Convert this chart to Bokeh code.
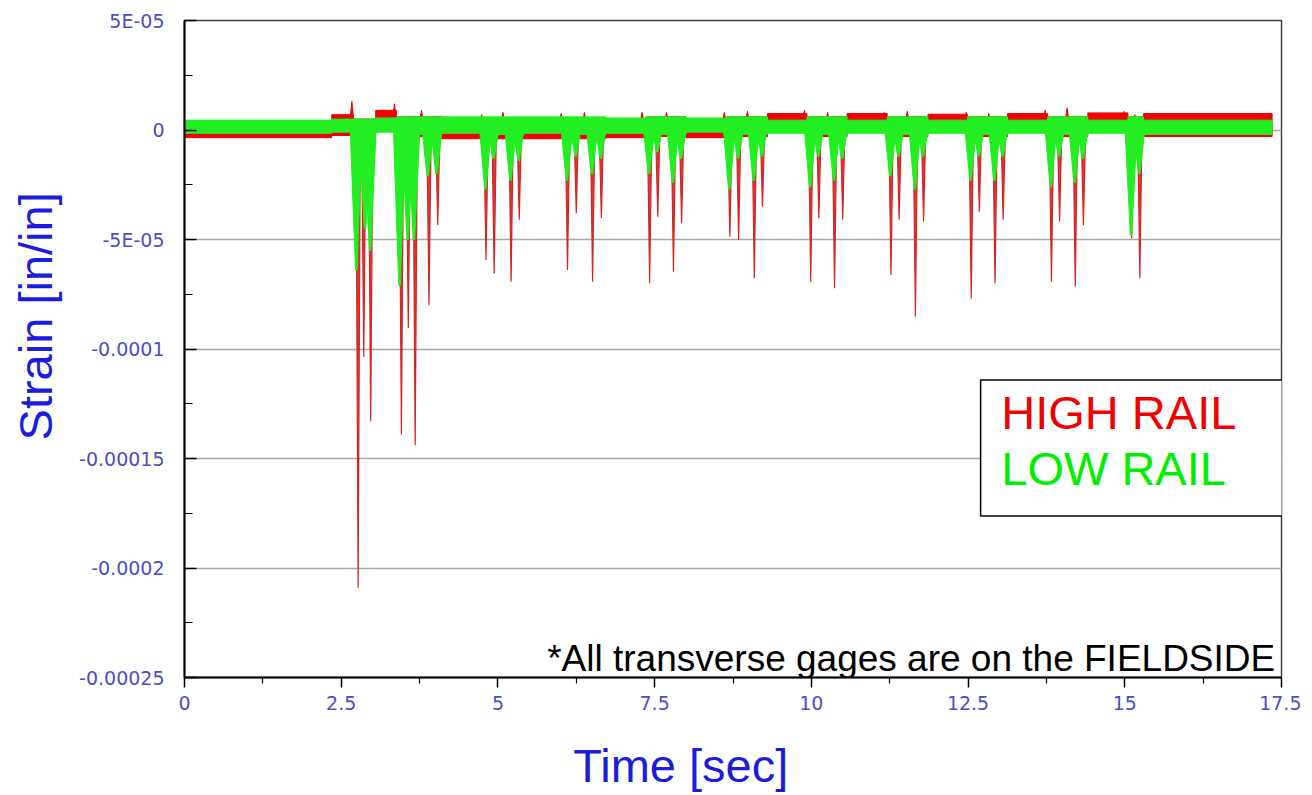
from bokeh.plotting import figure
from bokeh.models import FixedTicker, Range1d
from bokeh.core.properties import value
from bokeh.embed import file_html
from bokeh.resources import INLINE

# ---------------- data ----------------
x_ticks = [0, 2.5, 5, 7.5, 10, 12.5, 15, 17.5]
x_tick_labels = ["0", "2.5", "5", "7.5", "10", "12.5", "15", "17.5"]
x_minor = [1.25, 3.75, 6.25, 8.75, 11.25, 13.75, 16.25]
y_ticks = [5e-05, 0.0, -5e-05, -0.0001, -0.00015, -0.0002, -0.00025]
y_tick_labels = ["5E-05", "0", "-5E-05", "-0.0001", "-0.00015", "-0.0002", "-0.00025"]
y_minor = [2.5e-05, -2.5e-05, -7.5e-05, -0.000125, -0.000175, -0.000225]

# baseline noise band segments (time start/end, lower/upper envelope)
band_t0 = [0.0, 2.35, 2.68, 3.05, 3.38, 4.10, 4.75, 5.42, 6.05, 6.72, 7.36, 8.00,
           8.65, 9.30, 9.93, 10.57, 11.21, 11.86, 12.49, 13.13, 13.77, 14.41, 15.05, 15.30]
band_t1 = [2.35, 2.68, 3.05, 3.38, 4.10, 4.75, 5.42, 6.05, 6.72, 7.36, 8.00, 8.65,
           9.30, 9.93, 10.57, 11.21, 11.86, 12.49, 13.13, 13.77, 14.41, 15.05, 15.30, 17.35]
red_lo = [-0.35e-5, -0.25e-5, -0.3e-5, 0.3e-5, -0.3e-5, -0.4e-5, -0.4e-5, -0.4e-5, -0.4e-5, -0.35e-5, -0.3e-5, -0.35e-5,
          -0.3e-5, -0.1e-5, -0.3e-5, -0.1e-5, -0.3e-5, -0.1e-5, -0.3e-5, -0.1e-5, -0.3e-5, -0.1e-5, -0.3e-5, -0.3e-5]
red_hi = [0.4e-5, 0.7e-5, 0.5e-5, 0.9e-5, 0.6e-5, 0.3e-5, 0.5e-5, 0.4e-5, 0.5e-5, 0.5e-5, 0.6e-5, 0.5e-5,
          0.6e-5, 0.75e-5, 0.6e-5, 0.75e-5, 0.6e-5, 0.72e-5, 0.6e-5, 0.75e-5, 0.6e-5, 0.78e-5, 0.6e-5, 0.75e-5]
green_lo = [-0.15e-5, -0.1e-5, -0.2e-5, -0.1e-5, -0.2e-5, -0.15e-5, -0.2e-5, -0.15e-5, -0.2e-5, -0.15e-5, -0.2e-5, -0.1e-5,
            -0.2e-5, -0.15e-5, -0.2e-5, -0.15e-5, -0.2e-5, -0.15e-5, -0.2e-5, -0.15e-5, -0.2e-5, -0.15e-5, -0.2e-5, -0.2e-5]
green_hi = [0.45e-5, 0.5e-5, 0.5e-5, 0.55e-5, 0.6e-5, 0.6e-5, 0.6e-5, 0.6e-5, 0.6e-5, 0.55e-5, 0.6e-5, 0.55e-5,
            0.6e-5, 0.45e-5, 0.6e-5, 0.45e-5, 0.6e-5, 0.45e-5, 0.6e-5, 0.45e-5, 0.6e-5, 0.45e-5, 0.6e-5, 0.45e-5]

# HIGH RAIL (red) axle spikes: time [s], minimum strain
red_spike_t = [2.77, 2.86, 2.97, 3.46, 3.57, 3.68, 3.90, 4.04,
               4.81, 4.94, 5.21, 5.34, 6.11, 6.25, 6.51, 6.65,
               7.42, 7.55, 7.80, 7.93, 8.70, 8.84, 9.09, 9.22,
               9.99, 10.12, 10.37, 10.50, 11.27, 11.40, 11.66, 11.79,
               12.55, 12.68, 12.93, 13.06, 13.83, 13.96, 14.21, 14.34,
               15.11, 15.24]
red_spike_v = [-20.9e-5, -10.35e-5, -13.3e-5, -13.9e-5, -9.04e-5, -14.4e-5, -8.0e-5, -4.34e-5,
               -5.94e-5, -6.55e-5, -6.93e-5, -4.1e-5, -6.39e-5, -3.8e-5, -6.93e-5, -4.03e-5,
               -7.0e-5, -3.96e-5, -6.47e-5, -4.26e-5, -4.87e-5, -5.02e-5, -6.77e-5, -3.5e-5,
               -6.93e-5, -4.03e-5, -7.23e-5, -4.1e-5, -6.62e-5, -4.1e-5, -8.52e-5, -4.18e-5,
               -7.69e-5, -3.73e-5, -7.0e-5, -4.1e-5, -6.93e-5, -4.18e-5, -7.15e-5, -4.34e-5,
               -4.95e-5, -6.77e-5]
# HIGH RAIL positive peaks
red_peak_t = [2.67, 3.35, 3.78, 4.74, 5.08, 6.01, 6.38, 7.30, 7.69, 8.61, 8.98,
              9.89, 10.26, 11.16, 11.53, 12.47, 12.83, 13.73, 14.08, 14.99, 15.16]
red_peak_v = [1.3e-5, 1.2e-5, 0.9e-5, 0.7e-5, 0.8e-5, 0.75e-5, 0.8e-5, 0.8e-5, 0.8e-5, 0.8e-5, 0.85e-5,
              0.9e-5, 0.8e-5, 0.8e-5, 0.85e-5, 0.8e-5, 0.75e-5, 0.9e-5, 1.0e-5, 0.85e-5, 0.7e-5]

# LOW RAIL (green) axle dips
green_dip_t = [2.74, 2.88, 2.96, 3.43, 3.56, 3.66, 3.88, 4.02,
               4.80, 4.93, 5.20, 5.33, 6.10, 6.24, 6.50, 6.64,
               7.41, 7.54, 7.79, 7.92, 8.69, 8.83, 9.08, 9.21,
               9.98, 10.11, 10.36, 10.49, 11.26, 11.39, 11.65, 11.78,
               12.54, 12.67, 12.92, 13.05, 13.82, 13.95, 14.20, 14.33,
               15.10, 15.23]
green_dip_v = [-6.4e-5, -4.5e-5, -5.5e-5, -7.1e-5, -5.0e-5, -5.0e-5, -2.1e-5, -2.0e-5,
               -2.7e-5, -1.3e-5, -2.3e-5, -1.4e-5, -2.3e-5, -1.2e-5, -2.0e-5, -1.3e-5,
               -2.0e-5, -1.0e-5, -2.4e-5, -1.3e-5, -2.7e-5, -1.3e-5, -2.3e-5, -1.2e-5,
               -2.6e-5, -1.2e-5, -2.3e-5, -1.3e-5, -2.1e-5, -1.2e-5, -2.7e-5, -1.2e-5,
               -2.3e-5, -1.2e-5, -2.3e-5, -1.2e-5, -2.6e-5, -1.2e-5, -2.4e-5, -1.3e-5,
               -4.8e-5, -2.0e-5]

legend_labels = ["HIGH RAIL", "LOW RAIL"]
note_text = "*All transverse gages are on the FIELDSIDE"
x_title = "Time [sec]"
y_title = "Strain [in/in]"

# ---------------- styles ----------------
RED = "#f00000"
RED_SPIKE = "#d42424"
GREEN = "#22ee22"
TICK_COLOR = "#4d4dc4"
TITLE_COLOR = "#1c1ce0"
NBSP = "\u00a0"

p = figure(frame_width=1097, frame_height=657,
           x_range=Range1d(0, 17.5), y_range=Range1d(-0.00025, 0.00005),
           output_backend="svg", toolbar_location=None,
           min_border_left=184, min_border_right=20, min_border_top=20, min_border_bottom=10,
           background_fill_color="white", border_fill_color="white")

p.outline_line_color = "#404040"
p.outline_line_width = 1.5

# axes
xt = FixedTicker(ticks=x_ticks, minor_ticks=x_minor)
yt = FixedTicker(ticks=y_ticks, minor_ticks=y_minor)
p.xaxis.ticker = xt
p.yaxis.ticker = yt
p.xaxis.major_label_overrides = {float(k): v for k, v in zip(x_ticks, x_tick_labels)}
p.yaxis.major_label_overrides = {float(k): v for k, v in zip(y_ticks, y_tick_labels)}
p.xgrid.visible = False
p.ygrid.ticker = yt
p.ygrid.grid_line_color = "#a8a8a8"
p.ygrid.grid_line_width = 1.5

for ax in (p.xaxis[0], p.yaxis[0]):
    ax.axis_line_color = "black"
    ax.axis_line_width = 2
    ax.major_tick_line_color = "black"
    ax.minor_tick_line_color = "black"
    ax.major_tick_line_width = 1.5
    ax.minor_tick_line_width = 1.2
    ax.major_label_text_font = "DejaVu Sans"
    ax.major_label_text_font_size = "19px"
    ax.major_label_text_color = TICK_COLOR
    ax.axis_label_text_font = "Liberation Sans"
    ax.axis_label_text_font_size = "47px"
    ax.axis_label_text_font_style = "normal"
    ax.axis_label_text_color = TITLE_COLOR

p.xaxis.major_tick_out = 10
p.xaxis.major_tick_in = 0
p.xaxis.minor_tick_out = 6
p.xaxis.minor_tick_in = 0
p.xaxis.major_label_standoff = 8
# trailing non-breaking spaces move the centred title left, as in the original
p.xaxis.axis_label = x_title + NBSP * 8
p.xaxis.axis_label_standoff = 26

p.yaxis.major_tick_out = 0
p.yaxis.major_tick_in = 12
p.yaxis.minor_tick_out = 0
p.yaxis.minor_tick_in = 8
p.yaxis.major_label_standoff = 20
# leading non-breaking spaces move the rotated title up, as in the original
p.yaxis.axis_label = NBSP * 5 + y_title
p.yaxis.axis_label_standoff = 14

# ---------------- signals ----------------
# red baseline band
p.quad(left=band_t0, right=band_t1, bottom=red_lo, top=red_hi,
       fill_color=RED, line_color=RED, line_width=1)
# red positive peaks
hw_peak = 0.035
p.patches(xs=[[t - hw_peak, t, t + hw_peak] for t in red_peak_t],
          ys=[[0.3e-5, v, 0.3e-5] for v in red_peak_v],
          fill_color=RED, line_color=RED, line_width=1)
# red spikes (drawn under the green so the green dips cover their upper part)
hw_red = 0.035
p.patches(xs=[[t - hw_red, t, t + hw_red] for t in red_spike_t],
          ys=[[0.0, v, 0.0] for v in red_spike_v],
          fill_color=RED_SPIKE, fill_alpha=0.9, line_color=RED_SPIKE, line_width=1.2)

# green baseline band
p.quad(left=band_t0, right=band_t1, bottom=green_lo, top=green_hi,
       fill_color=GREEN, line_color=GREEN, line_width=1)
# green dips
hw_green = 0.1
bw_green = 0.012
p.patches(xs=[[t - hw_green, t - bw_green, t + bw_green, t + hw_green] for t in green_dip_t],
          ys=[[0.3e-5, v, v, 0.3e-5] for v in green_dip_v],
          fill_color=GREEN, line_color=GREEN, line_width=1)

# ---------------- legend box & note ----------------
p.quad(left=[12.70], right=[17.56], top=[-1.1416e-4], bottom=[-1.7626e-4],
       fill_color="white", line_color="black", line_width=1.5)
p.text(x=[13.03], y=[-1.29e-4], text=[legend_labels[0]], text_color=RED,
       text_font=value("Liberation Sans"), text_font_size=value("47px"),
       text_align="left", text_baseline="alphabetic")
p.text(x=[13.03], y=[-1.545e-4], text=[legend_labels[1]], text_color="#00ee00",
       text_font=value("Liberation Sans"), text_font_size=value("47px"),
       text_align="left", text_baseline="alphabetic")
p.text(x=[17.40], y=[-2.413e-4], text=[note_text], text_color="black",
       text_font=value("Liberation Sans"), text_font_size=value("37px"),
       text_align="right", text_baseline="alphabetic")

open("out.html", "w").write(file_html(p, INLINE))
